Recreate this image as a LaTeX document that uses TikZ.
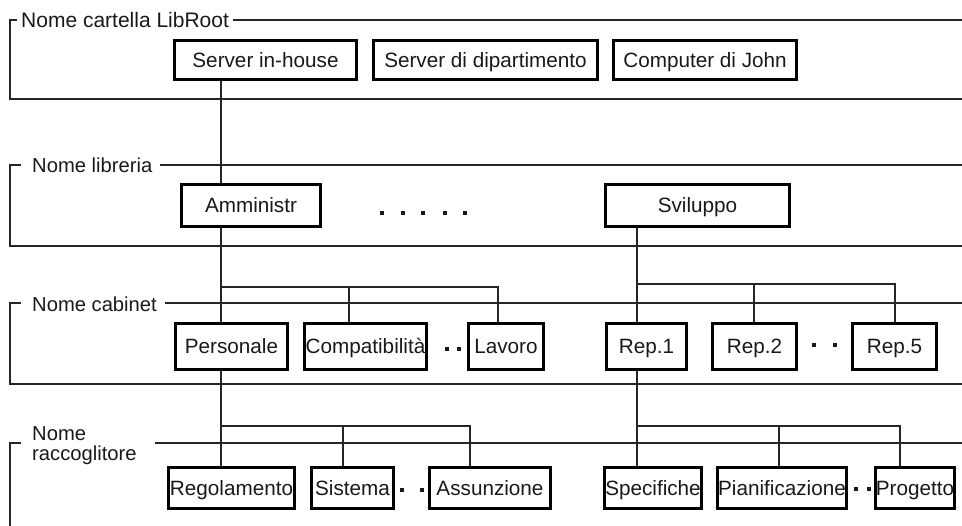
\documentclass[tikz,border=0pt]{standalone}
\usepackage{fontspec}
\setmainfont{Liberation Sans}
\begin{document}
\begin{tikzpicture}[x=1pt,y=-1pt,
  ln/.style={line width=1.5pt, color=black!85},
  box/.style={draw, line width=3.2pt, inner sep=0pt, text height=14.7pt, text depth=0pt,
    font=\fontsize{20.7}{20.7}\selectfont, text=black!90},
  lbl/.style={anchor=west, inner sep=0pt, align=left,
    font=\fontsize{20.2}{20}\selectfont, text=black!90}]
\useasboundingbox (0,0) rectangle (962,526);

% section frames
\draw[ln] (17,20) -- (10,20) -- (10,99) -- (962,99);
\draw[ln] (233,20) -- (962,20);
\node[lbl, font=\fontsize{21}{21}\selectfont] (l1) at (21,20) {Nome cartella LibRoot};

\draw[ln] (21,165) -- (10,165) -- (10,246) -- (962,246);
\draw[ln] (160,165) -- (962,165);
\node[lbl] (l2) at (32,165) {Nome libreria};

\draw[ln] (21,303) -- (10,303) -- (10,384) -- (962,384);
\draw[ln] (165,303) -- (962,303);
\node[lbl] (l3) at (32,304) {Nome cabinet};

\draw[ln] (21,443) -- (10,443) -- (10,526);
\draw[ln] (155,443) -- (962,443);
\node[lbl] (l4) at (32,446) {Nome\\raccoglitore};

% row 1
\node[box, minimum width=181.8pt, minimum height=38.8pt] (srv) at (265.5,60) {Server in-house};
\node[box, minimum width=223.8pt, minimum height=38.8pt] (dep) at (485.5,60) {Server di dipartimento};
\node[box, minimum width=182.8pt, minimum height=38.8pt] (john) at (705,60) {Computer di John};

% row 2
\node[box, minimum width=138.8pt, minimum height=41.8pt] (amm) at (251,205.5) {Amministr};
\node[box, minimum width=183.8pt, minimum height=41.8pt] (svi) at (697.5,205.5) {Sviluppo};

% row 3
\node[box, minimum width=111.8pt, minimum height=45.8pt] (pers) at (231.5,346.5) {Personale};
\node[box, minimum width=121.8pt, minimum height=45.8pt] (comp) at (365.5,346.5) {Compatibilità};
\node[box, minimum width=74.8pt, minimum height=45.8pt] (lav) at (506,346.5) {Lavoro};
\node[box, minimum width=79.8pt, minimum height=45.8pt] (rep1) at (646.5,346.5) {Rep.1};
\node[box, minimum width=83.8pt, minimum height=45.8pt] (rep2) at (754.5,346.5) {Rep.2};
\node[box, minimum width=83.8pt, minimum height=45.8pt] (rep5) at (894.5,346.5) {Rep.5};

% row 4
\node[box, minimum width=125.8pt, minimum height=40.8pt] (reg) at (231.5,488) {Regolamento};
\node[box, minimum width=81.8pt, minimum height=40.8pt] (sis) at (352.5,488) {Sistema};
\node[box, minimum width=120.8pt, minimum height=40.8pt] (ass) at (490,488) {Assunzione};
\node[box, minimum width=96.8pt, minimum height=40.8pt] (spec) at (653,488) {Specifiche};
\node[box, minimum width=128.8pt, minimum height=40.8pt] (pian) at (782,488) {Pianificazione};
\node[box, minimum width=76.8pt, minimum height=40.8pt] (prog) at (915,488) {Progetto};

% connector columns
\coordinate (xL) at (221,0);
\coordinate (xR) at (637,0);
\coordinate (d1) at (349,0);
\coordinate (d2) at (498,0);
\coordinate (d3) at (754,0);
\coordinate (d4) at (895,0);
\coordinate (d5) at (343,0);
\coordinate (d6) at (470,0);
\coordinate (d7) at (779,0);
\coordinate (d8) at (900,0);
\coordinate (b1) at (221,287);
\coordinate (b2) at (637,284);
\coordinate (b3) at (221,426);
\coordinate (b4) at (637,426);

\draw[ln] (srv.south -| xL) -- (amm.north -| xL);

\draw[ln] (amm.south -| xL) -- (pers.north -| xL);
\draw[ln] (b1) -| (lav.north -| d2);
\draw[ln] (b1 -| d1) -- (comp.north -| d1);

\draw[ln] (svi.south -| xR) -- (rep1.north -| xR);
\draw[ln] (b2) -| (rep5.north -| d4);
\draw[ln] (b2 -| d3) -- (rep2.north -| d3);

\draw[ln] (pers.south -| xL) -- (reg.north -| xL);
\draw[ln] (b3) -| (ass.north -| d6);
\draw[ln] (b3 -| d5) -- (sis.north -| d5);

\draw[ln] (rep1.south -| xR) -- (spec.north -| xR);
\draw[ln] (b4) -| (prog.north -| d8);
\draw[ln] (b4 -| d7) -- (pian.north -| d7);

% ellipsis dots
\foreach \x/\y in {382/213, 403/213, 423/213, 445/213, 465/213,
                   447/349, 459/349, 814/345, 835/345,
                   402/490, 422/490, 856/489, 869/489}
  \fill[black!90] (\x-2,\y-2) rectangle (\x+2,\y+2);
\end{tikzpicture}
\end{document}
